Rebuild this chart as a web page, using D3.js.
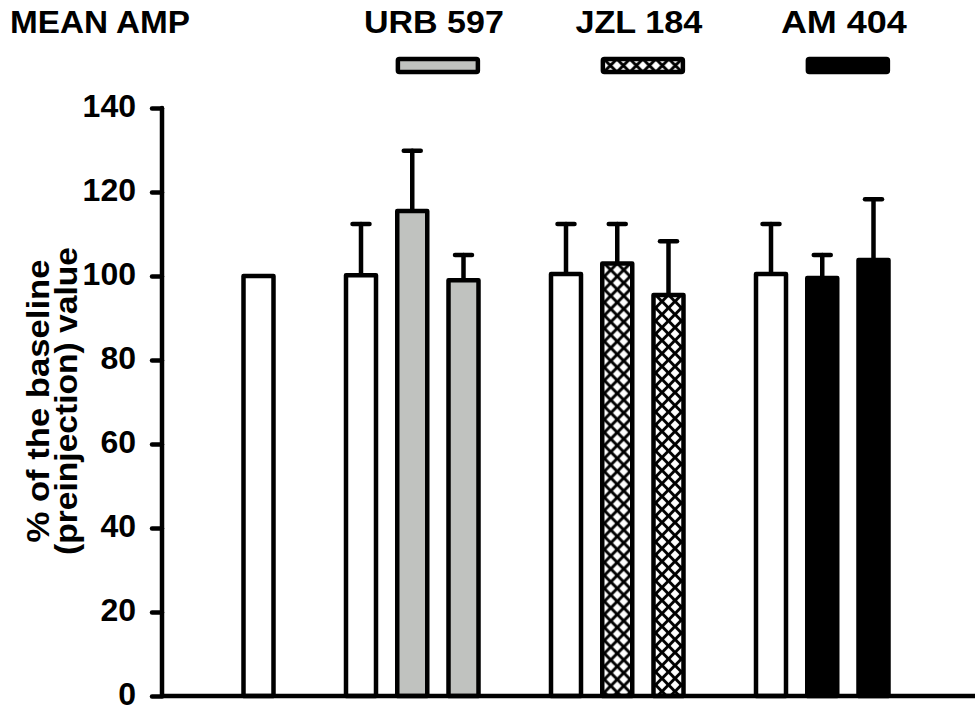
<!DOCTYPE html>
<html>
<head>
<meta charset="utf-8">
<script src="https://cdn.jsdelivr.net/npm/d3@7"></script>
<style>
  html, body { margin: 0; padding: 0; background: #fff; }
  svg { display: block; }
  text { font-family: "Liberation Sans", Arial, sans-serif; font-weight: bold; fill: #000; }
</style>
</head>
<body>
<svg id="chart" width="975" height="711"></svg>
<script>
// ---------------- data ----------------
const slots   = [0, 2, 3, 4, 6, 7, 8, 10, 11, 12];          // bar position (category slot)
const fills   = ["white", "white", "grey", "grey", "white", "hatch", "hatch", "white", "black", "black"];
const means   = [100, 100.2, 115.5, 99, 100.5, 103, 95.5, 100.5, 99.5, 103.8];
const errTops = [null, 112.4, 129.8, 105, 112.4, 112.4, 108.3, 112.4, 105, 118.3];
const yTicks  = [0, 20, 40, 60, 80, 100, 120, 140];
const legendLabels = ["URB 597", "JZL 184", "AM 404"];
const legendFills  = ["grey", "hatch", "black"];
const legendSlots  = [3.5, 7.5, 11.5];
const title = "MEAN AMP";
const yLabelLines = ["% of the baseline", "(preinjection) value"];

// ---------------- layout ----------------
const svg = d3.select("#chart");
const y = d3.scaleLinear().domain([0, 140]).range([696, 108]);
const x = d3.scaleLinear().domain([0, 12]).range([258.5, 873.5]);
const axisX = 162, axisRight = 975;
const barW = 30, sw = 4.5;
const greyFill = "#c0c2bf";

const defs = svg.append("defs");
let patId = 0;
function hatchPattern(cx, cy) {
  const id = "hatch" + (patId++);
  const P = 13;
  const p = defs.append("pattern").attr("id", id)
    .attr("patternUnits", "userSpaceOnUse")
    .attr("x", cx - P / 2).attr("y", cy)
    .attr("width", P).attr("height", P);
  p.append("rect").attr("width", P).attr("height", P).attr("fill", "#000");
  const r = 4.4;
  const dia = (px, py) => `M${px},${py - r}L${px + r},${py}L${px},${py + r}L${px - r},${py}Z`;
  p.append("path").attr("fill", "#fff")
    .attr("d", dia(P / 2, P / 2) + dia(0, 0) + dia(P, 0) + dia(0, P) + dia(P, P));
  return `url(#${id})`;
}
function fillFor(f, cx, cy) {
  if (f === "white") return "#fff";
  if (f === "grey") return greyFill;
  if (f === "black") return "#000";
  return hatchPattern(cx, cy);
}

// ---------------- bars ----------------
const bars = slots.map((s, i) => ({ s, f: fills[i], m: means[i], e: errTops[i] }));

// error bars (drawn first, bar covers the lower end)
const eb = svg.append("g").attr("stroke", "#000").attr("stroke-width", 4.5).attr("stroke-linecap", "round");
bars.filter(d => d.e !== null).forEach(d => {
  eb.append("line").attr("x1", x(d.s)).attr("x2", x(d.s)).attr("y1", y(d.m)).attr("y2", y(d.e));
  eb.append("line").attr("x1", x(d.s) - 8.5).attr("x2", x(d.s) + 8.5).attr("y1", y(d.e)).attr("y2", y(d.e));
});

svg.append("g").selectAll("rect").data(bars).join("rect")
  .attr("x", d => x(d.s) - barW / 2)
  .attr("y", d => y(d.m))
  .attr("width", barW)
  .attr("height", d => y(0) - y(d.m))
  .attr("fill", d => fillFor(d.f, x(d.s), y(d.m)))
  .attr("stroke", "#000")
  .attr("stroke-width", sw)
  .attr("stroke-linejoin", "round");

// ---------------- axes ----------------
const yAxis = d3.axisLeft(y).tickValues(yTicks).tickSize(10).tickPadding(16).tickFormat(d3.format("d"));
const gy = svg.append("g").attr("transform", `translate(${axisX},0)`).call(yAxis);
gy.select(".domain").remove();
gy.selectAll(".tick line").attr("stroke", "#000").attr("stroke-width", 4.5).attr("stroke-linecap", "round");
gy.selectAll(".tick text").attr("font-size", 32).attr("font-family", "Liberation Sans, Arial, sans-serif")
  .attr("font-weight", "bold").attr("fill", "#000").attr("dy", "0.25em");

svg.append("path")
  .attr("d", `M${axisX},${y(140)}V${y(0)}H${axisRight + 5}`)
  .attr("fill", "none").attr("stroke", "#000").attr("stroke-width", 4.5)
  .attr("stroke-linecap", "round").attr("stroke-linejoin", "round");

// y-axis label
const yLabelLen = [283, 308];
const yl = svg.append("g").attr("transform", "translate(0,401) rotate(-90)");
yl.selectAll("text").data(yLabelLines).join("text")
  .attr("x", 0).attr("y", (d, i) => 49 + i * 28)
  .attr("text-anchor", "middle").attr("font-size", 32)
  .attr("textLength", (d, i) => yLabelLen[i]).attr("lengthAdjust", "spacingAndGlyphs")
  .text(d => d);

// ---------------- title + legend ----------------
svg.append("text").attr("x", 10).attr("y", 33).attr("font-size", 31)
  .attr("textLength", 180).attr("lengthAdjust", "spacingAndGlyphs").text(title);

const legendTextLen = [140, 127, 126];
const lg = svg.append("g");
legendLabels.forEach((lab, i) => {
  const cx = x(legendSlots[i]);
  lg.append("text").attr("x", cx - 4).attr("y", 33).attr("text-anchor", "middle").attr("font-size", 31)
    .attr("textLength", legendTextLen[i]).attr("lengthAdjust", "spacingAndGlyphs").text(lab);
  lg.append("rect")
    .attr("x", cx - 40).attr("y", 59).attr("width", 80).attr("height", 13)
    .attr("rx", 1.5)
    .attr("fill", fillFor(legendFills[i], cx, 59))
    .attr("stroke", "#000").attr("stroke-width", 4.5);
});
</script>
</body>
</html>
